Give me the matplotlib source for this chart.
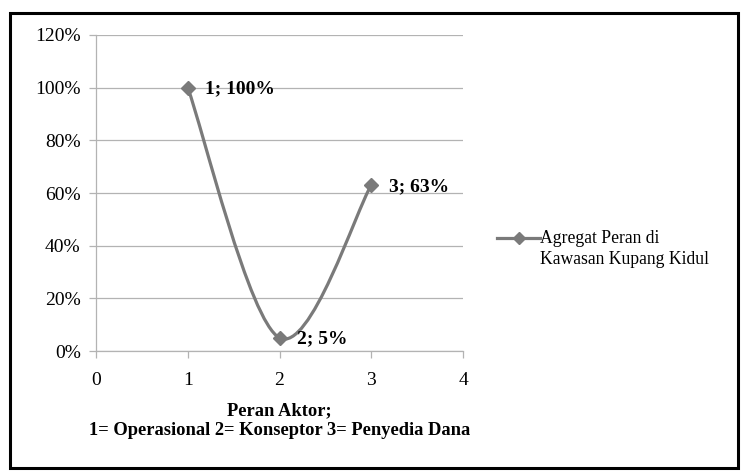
import matplotlib
matplotlib.use("Agg")
import matplotlib.pyplot as plt
from matplotlib.path import Path
from matplotlib.patches import PathPatch, Rectangle
from matplotlib.lines import Line2D
from matplotlib.ticker import FuncFormatter

# data
x_vals = [1, 2, 3]
y_vals = [1.00, 0.05, 0.63]
point_labels = ["1; 100%", "2; 5%", "3; 63%"]
series_name = "Agregat Peran di\nKawasan Kupang Kidul"
x_title = "Peran Aktor;\n1= Operasional 2= Konseptor 3= Penyedia Dana"
x_ticks = [0, 1, 2, 3, 4]
y_ticks = [0, 0.2, 0.4, 0.6, 0.8, 1.0, 1.2]

plt.rcParams['font.family'] = ['Liberation Serif', 'DejaVu Serif']

fig = plt.figure(figsize=(7.42, 4.72), dpi=100)
ax = fig.add_axes([96/742, 121/472, 367/742, 316/472])

line_color = '#7a7a7a'
grid_color = '#b3b3b3'

# Excel-style smoothed curve (cubic Bezier through points)
pts = list(zip(x_vals, y_vals))
n = len(pts)
verts = [pts[0]]
codes = [Path.MOVETO]
for i in range(n - 1):
    p_prev = pts[i - 1] if i > 0 else pts[i]
    p0 = pts[i]
    p1 = pts[i + 1]
    p_next = pts[i + 2] if i + 2 < n else pts[i + 1]
    c1 = (p0[0] + (p1[0] - p_prev[0]) / 6, p0[1] + (p1[1] - p_prev[1]) / 6)
    c2 = (p1[0] - (p_next[0] - p0[0]) / 6, p1[1] - (p_next[1] - p0[1]) / 6)
    verts += [c1, c2, p1]
    codes += [Path.CURVE4] * 3
patch = PathPatch(Path(verts, codes), facecolor='none', edgecolor=line_color,
                  lw=2.3, zorder=3, capstyle='round', joinstyle='round')
ax.add_patch(patch)
ax.plot(x_vals, y_vals, linestyle='none', marker='D', markersize=7.5,
        color=line_color, zorder=4)

for xv, yv, lab in zip(x_vals, y_vals, point_labels):
    ax.annotate(lab, (xv, yv), xytext=(12.5, -1), textcoords='offset points',
                ha='left', va='center', fontsize=14, fontweight='bold',
                color='black', zorder=5)

ax.set_xlim(0, 4)
ax.set_ylim(0, 1.2)
ax.set_xticks(x_ticks)
ax.set_yticks(y_ticks)
ax.yaxis.set_major_formatter(FuncFormatter(lambda v, p: f"{v*100:.0f}%"))
ax.grid(axis='y', color=grid_color, lw=0.9)
ax.set_axisbelow(True)
for s in ['top', 'right']:
    ax.spines[s].set_visible(False)
for s in ['left', 'bottom']:
    ax.spines[s].set_color(grid_color)
    ax.spines[s].set_linewidth(0.9)
ax.tick_params(axis='both', colors=grid_color, labelcolor='black',
               labelsize=14, length=5, width=0.9, direction='out')
ax.tick_params(axis='y', pad=6)
ax.tick_params(axis='x', pad=10)
ax.set_xlabel(x_title, fontsize=13.3, fontweight='bold', labelpad=10,
              linespacing=1.2)

# legend (handle aligned with first text line, as in the reference)
leg_y = 1 - 238/472
fig.add_artist(Line2D([497/742, 540/742], [leg_y, leg_y],
                      transform=fig.transFigure, color=line_color, lw=2.3))
fig.add_artist(Line2D([518.5/742], [leg_y], transform=fig.transFigure,
                      color=line_color, marker='D', markersize=6,
                      linestyle='none'))
fig.text(540/742, 1 - 230/472, series_name, ha='left', va='top',
         fontsize=12.7, linespacing=1.32)

fig.patches.append(Rectangle((10/742, 4/472), 728/742, 455/472,
                             transform=fig.transFigure, fill=False,
                             edgecolor='black', lw=2.2, zorder=10))

fig.savefig('out.png', dpi=100)
